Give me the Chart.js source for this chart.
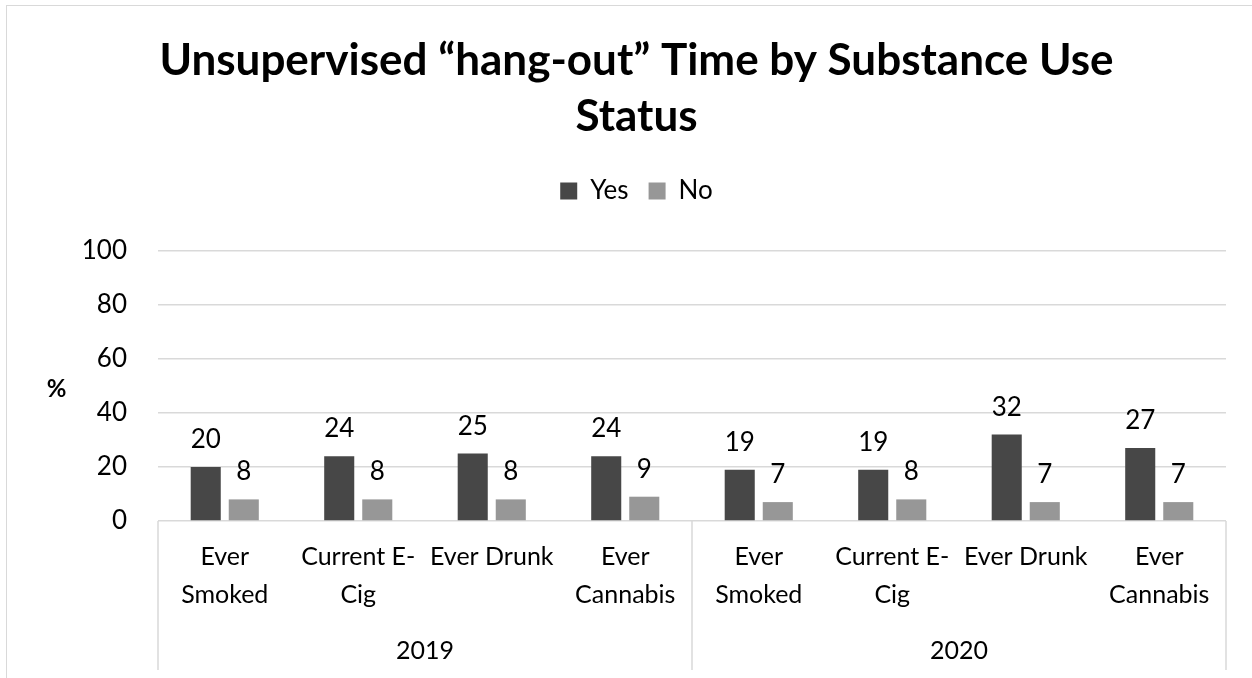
<!DOCTYPE html>
<html>
<head>
<meta charset="utf-8">
<title>Unsupervised hang-out time by substance use status</title>
<script src="https://cdn.jsdelivr.net/npm/chart.js@4.4.1/dist/chart.umd.min.js"></script>
<style>
  html, body { margin: 0; padding: 0; background: #fff; overflow: hidden; width: 1252px; height: 678px; }
  #frame { position: absolute; left: 6px; top: 5px; width: 1300px; height: 700px;
           border-left: 1px solid #d9d9d9; border-top: 1px solid #d9d9d9; }
  #chart { position: absolute; left: 7px; top: 6px; }
</style>
</head>
<body>
<div id="frame"></div>
<canvas id="chart" width="1259" height="672"></canvas>
<script>
// Substance-use measures, repeated for each survey year
const measures = [['Ever', 'Smoked'], ['Current E-', 'Cig'], 'Ever Drunk', ['Ever', 'Cannabis']];
const categories = [...measures, ...measures];
const years = ['2019', '2020'];

// Percent reporting unsupervised "hang-out" time
const yesValues = [20, 24, 25, 24, 19, 19, 32, 27];
const noValues  = [8, 8, 8, 9, 7, 8, 7, 7];

const yTickValues = [0, 20, 40, 60, 80, 100];

const FONT = 'Lato, "Open Sans", "DejaVu Sans", sans-serif';
const GRID = '#d9d9d9';

// Numbers written above each bar
const barValueLabels = {
  id: 'barValueLabels',
  afterDatasetsDraw(chart) {
    const { ctx } = chart;
    ctx.save();
    ctx.font = '26px ' + FONT;
    ctx.fillStyle = '#000';
    ctx.textAlign = 'center';
    ctx.textBaseline = 'alphabetic';
    chart.data.datasets.forEach((ds, di) => {
      chart.getDatasetMeta(di).data.forEach((bar, i) => {
        ctx.fillText(String(ds.data[i]), bar.x, bar.y - 19);
      });
    });
    ctx.restore();
  }
};

// Horizontal "%" caption left of the value axis, and year group dividers
const axisDecor = {
  id: 'axisDecor',
  afterDraw(chart) {
    const { ctx, chartArea } = chart;
    const x = chart.scales.x, x2 = chart.scales.x2;
    ctx.save();
    ctx.font = 'bold 24px ' + FONT;
    ctx.fillStyle = '#000';
    ctx.textAlign = 'center';
    ctx.textBaseline = 'middle';
    ctx.fillText('%', 49.5, (chartArea.top + chartArea.bottom) / 2 + 3);

    const perYear = measures.length;
    const bounds = [chartArea.left];
    for (let g = 1; g < years.length; g++) {
      bounds.push((x.getPixelForValue(g * perYear - 1) + x.getPixelForValue(g * perYear)) / 2);
    }
    bounds.push(chartArea.right);
    ctx.strokeStyle = GRID;
    ctx.lineWidth = 1.5;
    bounds.forEach(px => {
      ctx.beginPath();
      ctx.moveTo(px, chartArea.bottom);
      ctx.lineTo(px, x2.bottom);
      ctx.stroke();
    });
    ctx.restore();
  }
};

Chart.defaults.font.family = FONT;
Chart.defaults.color = '#000';

new Chart(document.getElementById('chart'), {
  type: 'bar',
  data: {
    labels: categories,
    datasets: [
      { label: 'Yes', data: yesValues, backgroundColor: '#474747',
        categoryPercentage: 0.57, barPercentage: 0.79 },
      { label: 'No', data: noValues, backgroundColor: '#979797',
        categoryPercentage: 0.57, barPercentage: 0.79 }
    ]
  },
  options: {
    responsive: false,
    animation: false,
    layout: { padding: { left: 40, right: 40, top: 0, bottom: 8 } },
    plugins: {
      title: {
        display: true,
        text: ['Unsupervised \u201chang-out\u201d Time by Substance Use', 'Status'],
        font: { size: 44, weight: 'bold', lineHeight: 56 / 44 },
        color: '#000',
        padding: { top: 27, bottom: 13 }
      },
      legend: {
        display: true,
        position: 'top',
        labels: { boxWidth: 17, boxHeight: 17, padding: 20, font: { size: 26 }, color: '#000' }
      },
      subtitle: {
        // blank band between the legend and the plot
        display: true,
        text: '',
        weight: 500,
        font: { size: 10, lineHeight: 1 },
        padding: { top: 0, bottom: 27 }
      },
      tooltip: { enabled: false }
    },
    scales: {
      y: {
        min: 0,
        max: 100,
        afterBuildTicks: s => { s.ticks = yTickValues.map(v => ({ value: v })); },
        afterFit: s => { s.width = 111; },
        grid: { color: GRID, lineWidth: 1.5, drawTicks: false },
        border: { display: false },
        ticks: { padding: 31, font: { size: 26 }, color: '#000' }
      },
      x: {
        afterFit: s => { s.height = 105; },
        grid: { display: false, drawTicks: false },
        border: { display: false },
        ticks: { autoSkip: false, maxRotation: 0, padding: 17,
                 font: { size: 25, lineHeight: 38 / 25 }, color: '#000' }
      },
      x2: {
        type: 'category',
        position: 'bottom',
        labels: years,
        offset: true,
        afterFit: s => { s.height = 44; },
        grid: { display: false, drawTicks: false },
        border: { display: false },
        ticks: { padding: 6, font: { size: 25, lineHeight: 38 / 25 }, color: '#000' }
      }
    }
  },
  plugins: [barValueLabels, axisDecor]
});
</script>
</body>
</html>
